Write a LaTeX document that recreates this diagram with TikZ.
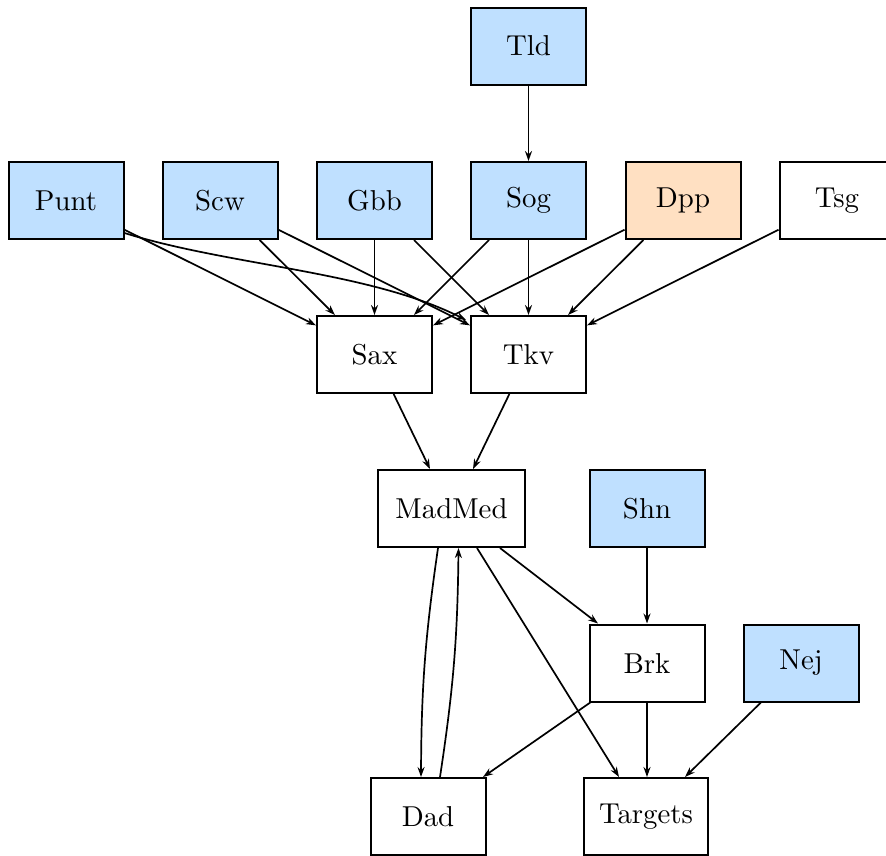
\documentclass[tikz,border=0pt]{standalone}
\usepackage{fontspec}
\usepackage{graphicx}
\usetikzlibrary{arrows.meta}
\definecolor{nblue}{HTML}{BFE0FF}
\definecolor{npeach}{HTML}{FFE0C2}
\newcommand\lbl[1]{\scalebox{2.88}{\fontsize{10}{12}\selectfont #1}}
\tikzset{
  box/.style={draw=black, line width=2pt, minimum width=115pt, minimum height=77pt, inner xsep=3pt, inner ysep=0pt, fill=white},
  blue/.style={box, fill=nblue},
  peach/.style={box, fill=npeach},
  arr/.style={-{Stealth[length=10pt,width=7pt]}, line width=1.7pt}
}
\begin{document}
\begin{tikzpicture}[x=1pt,y=-1pt]
\clip (0,0) rectangle (886,855);
\node[blue] (Tld) at (528.5,46) {\lbl{Tld}};
\node[blue] (Punt) at (66,200.5) {\lbl{Punt}};
\node[blue] (Scw) at (220,200.5) {\lbl{Scw}};
\node[blue] (Gbb) at (374.5,200.5) {\lbl{Gbb}};
\node[blue] (Sog) at (528.5,200.5) {\lbl{Sog}};
\node[peach] (Dpp) at (683,200.5) {\lbl{Dpp}};
\node[box] (Tsg) at (837,200.5) {\lbl{Tsg}};
\node[box] (Sax) at (374.5,354.5) {\lbl{Sax}};
\node[box] (Tkv) at (528.5,354.5) {\lbl{Tkv}};
\node[box, minimum width=147pt] (MadMed) at (451.5,508.5) {\lbl{MadMed}};
\node[blue] (Shn) at (647,508.5) {\lbl{Shn}};
\node[box] (Brk) at (647,663) {\lbl{Brk}};
\node[blue] (Nej) at (801,663) {\lbl{Nej}};
\node[box] (Dad) at (428,816.5) {\lbl{Dad}};
\node[box, minimum width=124pt] (Targets) at (646,816.5) {\lbl{Targets}};

\draw[arr] (Tld) -- (Sog);
\draw[arr] (Punt) -- (Sax);
\draw[arr] ([yshift=7pt]Punt.south east) .. controls +(106,33) and +(-97,-49) .. ([xshift=-4pt,yshift=-5pt]Tkv.north west);
\draw[arr] (Scw) -- (Sax);
\draw[arr] (Scw) -- (Tkv);
\draw[arr] (Gbb) -- (Sax);
\draw[arr] (Gbb) -- (Tkv);
\draw[arr] (Sog) -- (Sax);
\draw[arr] (Sog) -- (Tkv);
\draw[arr] (Dpp) -- (Sax);
\draw[arr] (Dpp) -- (Tkv);
\draw[arr] (Tsg) -- (Tkv);
\draw[arr] (Sax) -- ([xshift=-21.5pt]MadMed.north);
\draw[arr] (Tkv) -- ([xshift=21.5pt]MadMed.north);
\draw[arr] ([xshift=-13.5pt]MadMed.south) to[bend right=4] ([xshift=-7pt]Dad.north);
\draw[arr] ([xshift=12pt]Dad.north) to[bend right=4] ([xshift=7pt]MadMed.south);
\draw[arr] ([xshift=48.5pt]MadMed.south) -- ([xshift=-49pt]Brk.north);
\draw[arr] ([xshift=25.5pt]MadMed.south) -- ([xshift=-27pt]Targets.north);
\draw[arr] (Shn) -- (Brk);
\draw[arr] (Brk) -- ([xshift=55pt]Dad.north);
\draw[arr] (Brk.south) -- (Brk.south |- Targets.north);
\draw[arr] (Nej) -- ([xshift=39pt]Targets.north);
\end{tikzpicture}
\end{document}
